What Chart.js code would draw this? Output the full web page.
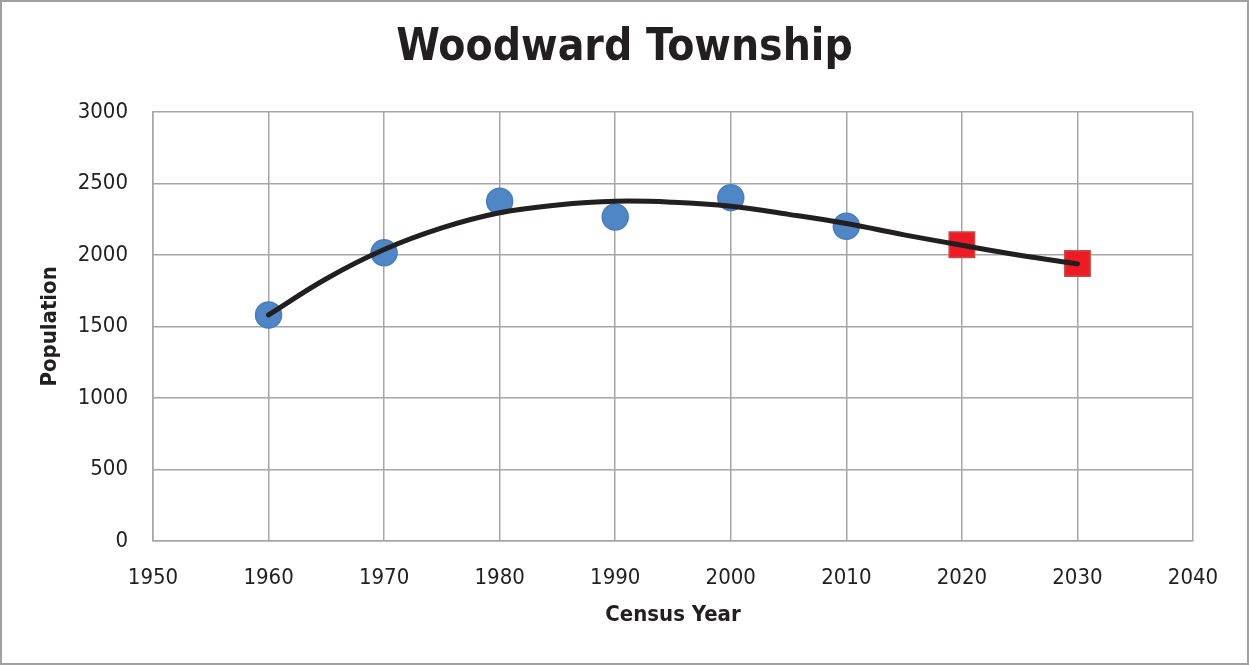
<!DOCTYPE html>
<html>
<head>
<meta charset="utf-8">
<title>Woodward Township</title>
<script src="https://cdn.jsdelivr.net/npm/chart.js@4"></script>
<style>
  body { margin: 0; background: #fff; }
  canvas { display: block; }
</style>
</head>
<body>
<canvas id="popChart" width="1249" height="665"></canvas>
<script>
// census counts
var censusYears = [1960, 1970, 1980, 1990, 2000, 2010];
var censusPopulation = [1580, 2015, 2375, 2265, 2400, 2200];

// projected values (red squares)
var projectionYears = [2020, 2030];
var projectionPopulation = [2070, 1940];

// polynomial trend line
var trendYears = [1960, 1965, 1970, 1975, 1980, 1985, 1990, 1995, 2000, 2005, 2010, 2015, 2020, 2025, 2030];
var trendPopulation = [1580, 1833, 2037, 2188, 2294, 2349, 2375, 2368, 2340, 2283, 2219, 2140, 2067, 1997, 1937];

var FONT = '"DejaVu Sans Condensed", "Liberation Sans Narrow", "DejaVu Sans", sans-serif';
var gridColor = '#a6a6a6';

function toPoints(xs, ys) {
    var pts = [];
    for (var i = 0; i < xs.length; i++) {
        pts.push({ x: xs[i], y: ys[i] });
    }
    return pts;
}

/* grey frame around the chart */
var framePlugin = {
    id: 'frame',
    afterDraw: function(chart) {
        var ctx = chart.ctx;
        ctx.save();
        ctx.strokeStyle = '#a0a0a0';
        ctx.lineWidth = 2;
        ctx.strokeRect(1, 1, chart.width - 2, chart.height - 2);
        ctx.restore();
    }
};

var ctx = document.getElementById('popChart').getContext('2d');
var chart = new Chart(ctx, {
    type: 'scatter',
    data: {
        datasets: [{
            label: 'Trend',
            type: 'line',
            data: toPoints(trendYears, trendPopulation),
            borderColor: '#231f20',
            borderWidth: 5,
            borderCapStyle: 'round',
            pointRadius: 0,
            fill: false,
            tension: 0.4,
            order: 0
        }, {
            label: 'Census',
            data: toPoints(censusYears, censusPopulation),
            pointStyle: 'circle',
            pointRadius: 13,
            backgroundColor: '#4f86c6',
            borderColor: '#4a7ebb',
            borderWidth: 1.5,
            order: 1
        }, {
            label: 'Projection',
            data: toPoints(projectionYears, projectionPopulation),
            pointStyle: 'rect',
            pointRadius: 18,
            backgroundColor: '#ed1c24',
            borderColor: '#c0504d',
            borderWidth: 1.5,
            order: 1
        }]
    },
    options: {
        responsive: false,
        animation: false,
        layout: { padding: 0 },
        plugins: {
            legend: { display: false },
            tooltip: { enabled: false },
            title: {
                display: true,
                text: 'Woodward Township',
                color: '#231f20',
                font: { family: FONT, size: 44, weight: '600' },
                padding: { top: 22, bottom: 37 }
            }
        },
        scales: {
            x: {
                type: 'linear',
                min: 1950,
                max: 2040,
                ticks: {
                    stepSize: 10,
                    padding: 24,
                    color: '#231f20',
                    font: { family: FONT, size: 22 },
                    callback: function(v) { return String(v); }
                },
                grid: { color: gridColor, lineWidth: 1.5, drawTicks: false },
                border: { color: gridColor, width: 1.5 },
                title: {
                    display: true,
                    text: 'Census Year',
                    color: '#231f20',
                    font: { family: FONT, size: 22, weight: 'bold' },
                    padding: { top: 0, bottom: 37 }
                },
                afterFit: function(scale) { scale.height = 124; }
            },
            y: {
                min: 0,
                max: 3000,
                ticks: {
                    stepSize: 500,
                    padding: 25,
                    color: '#231f20',
                    font: { family: FONT, size: 22 },
                    callback: function(v) { return String(v); }
                },
                grid: { color: gridColor, lineWidth: 1.5, drawTicks: false },
                border: { color: gridColor, width: 1.5 },
                title: {
                    display: true,
                    text: 'Population',
                    color: '#231f20',
                    font: { family: FONT, size: 22, weight: 'bold' },
                    padding: { top: 37, bottom: 0 }
                },
                afterFit: function(scale) { scale.width = 153; }
            },
            // empty right-hand gutter so the title centres on the whole chart
            gutter: {
                position: 'right',
                display: true,
                grid: { display: false, drawTicks: false },
                border: { display: false },
                ticks: { display: false },
                afterFit: function(scale) { scale.width = 56; }
            }
        }
    },
    plugins: [framePlugin]
});
</script>
</body>
</html>
